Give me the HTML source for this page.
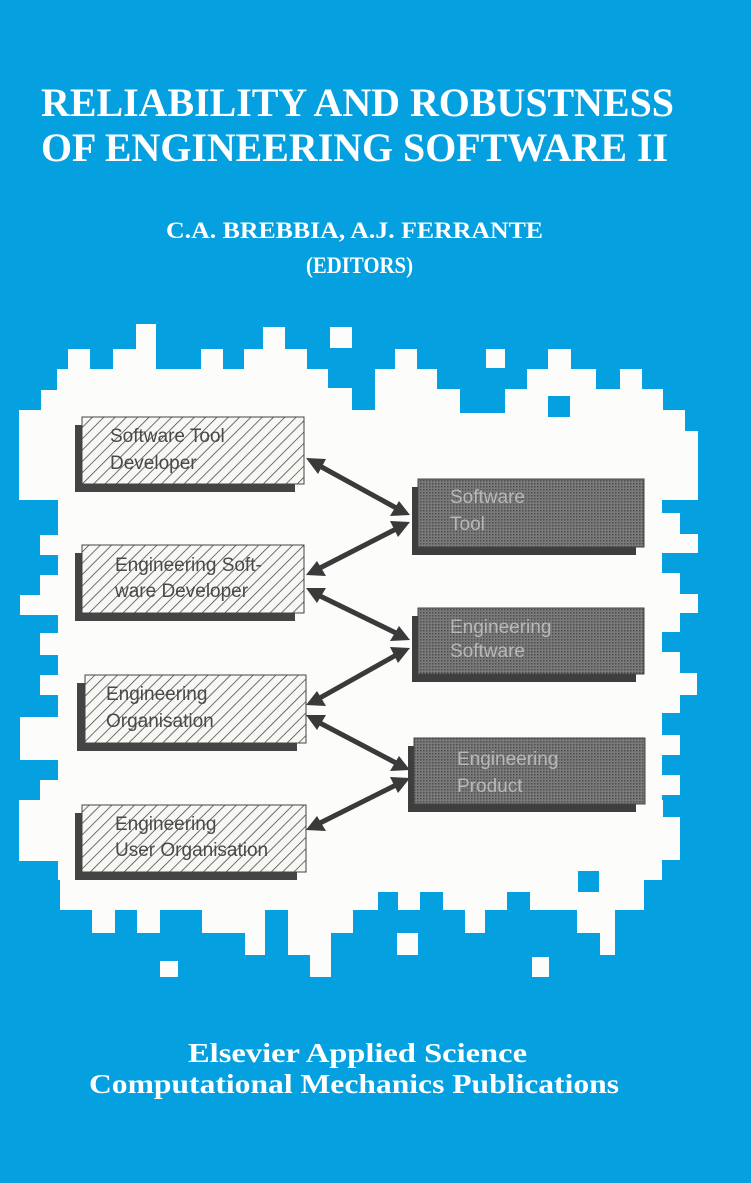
<!DOCTYPE html>
<html><head><meta charset="utf-8"><style>
html,body{margin:0;padding:0;background:#05a0df;}
svg{display:block;}
.t{font-family:"Liberation Serif",serif;font-weight:bold;fill:#fff;}
.h{font-family:"Liberation Sans",sans-serif;font-size:19px;fill:#4a4a4a;}
.d{font-family:"Liberation Sans",sans-serif;font-size:19px;fill:#b8b8b8;}
</style></head><body>
<svg width="751" height="1183" viewBox="0 0 751 1183" xmlns="http://www.w3.org/2000/svg">
<defs>
<pattern id="hatch" width="8" height="8" patternUnits="userSpaceOnUse" patternTransform="rotate(45)">
<rect width="8" height="8" fill="#f7f7f4"/><line x1="0" y1="0" x2="0" y2="8" stroke="#444" stroke-width="1.5"/>
</pattern>
<pattern id="dots" width="3" height="3" patternUnits="userSpaceOnUse">
<rect width="3" height="3" fill="#7a7a7a"/><rect width="1.5" height="1.5" fill="#4e4e4e"/>
</pattern>
</defs>
<rect width="751" height="1183" fill="#05a0df"/>
<g fill="#fcfcfa">
<rect x="58" y="420" width="604" height="460"/>
<rect x="19" y="410" width="22" height="90"/><rect x="41" y="390" width="16" height="110"/>
<rect x="57" y="369" width="11" height="131"/><rect x="68" y="349" width="22" height="151"/>
<rect x="90" y="369" width="23" height="131"/><rect x="113" y="349" width="23" height="151"/>
<rect x="136" y="324" width="20" height="176"/><rect x="156" y="369" width="45" height="131"/>
<rect x="201" y="349" width="22" height="151"/><rect x="223" y="369" width="21" height="131"/>
<rect x="244" y="349" width="19" height="151"/><rect x="263" y="327" width="22" height="173"/>
<rect x="285" y="349" width="22" height="151"/><rect x="307" y="369" width="21" height="131"/>
<rect x="328" y="388" width="24" height="112"/><rect x="352" y="410" width="23" height="90"/>
<rect x="375" y="369" width="20" height="131"/><rect x="395" y="349" width="22" height="151"/>
<rect x="417" y="369" width="20" height="131"/><rect x="437" y="389" width="23" height="111"/>
<rect x="460" y="413" width="45" height="87"/><rect x="505" y="389" width="22" height="111"/>
<rect x="527" y="369" width="21" height="131"/><rect x="548" y="349" width="23" height="151"/>
<rect x="571" y="369" width="25" height="131"/><rect x="596" y="389" width="24" height="111"/>
<rect x="620" y="369" width="22" height="131"/><rect x="642" y="389" width="21" height="111"/>
<rect x="663" y="410" width="22" height="90"/><rect x="685" y="431" width="13" height="69"/>
<rect x="330" y="327" width="22" height="21"/><rect x="486" y="349" width="19" height="19"/>
<rect x="19" y="800" width="41" height="61"/><rect x="60" y="800" width="32" height="110"/>
<rect x="92" y="800" width="23" height="133"/><rect x="115" y="800" width="22" height="110"/>
<rect x="137" y="800" width="23" height="133"/><rect x="160" y="800" width="42" height="110"/>
<rect x="202" y="800" width="43" height="133"/><rect x="245" y="800" width="20" height="155"/>
<rect x="265" y="800" width="23" height="110"/><rect x="288" y="800" width="22" height="155"/>
<rect x="310" y="800" width="21" height="177"/><rect x="331" y="800" width="22" height="133"/>
<rect x="353" y="800" width="25" height="110"/><rect x="378" y="800" width="20" height="92"/>
<rect x="398" y="800" width="22" height="110"/><rect x="420" y="800" width="23" height="92"/>
<rect x="443" y="800" width="22" height="110"/><rect x="465" y="800" width="20" height="133"/>
<rect x="485" y="800" width="22" height="110"/><rect x="507" y="800" width="23" height="92"/>
<rect x="530" y="800" width="47" height="110"/><rect x="577" y="800" width="23" height="133"/>
<rect x="600" y="800" width="15" height="155"/><rect x="615" y="800" width="9" height="110"/>
<rect x="624" y="800" width="20" height="110"/>
<rect x="624" y="800" width="39" height="60"/>
<rect x="160" y="961" width="18" height="16"/><rect x="397" y="933" width="21" height="22"/>
<rect x="532" y="957" width="17" height="20"/>
<rect x="40" y="430" width="60" height="25"/><rect x="40" y="475" width="60" height="20"/>
<rect x="40" y="535" width="60" height="20"/><rect x="40" y="575" width="60" height="20"/>
<rect x="20" y="595" width="80" height="20"/><rect x="40" y="633" width="60" height="22"/>
<rect x="40" y="675" width="60" height="20"/><rect x="20" y="717" width="80" height="43"/>
<rect x="40" y="780" width="60" height="20"/><rect x="20" y="820" width="80" height="20"/>
<rect x="600" y="400" width="62" height="460"/>
<rect x="600" y="410" width="80" height="22"/><rect x="600" y="432" width="98" height="20"/>
<rect x="600" y="452" width="80" height="20"/><rect x="600" y="513" width="80" height="21"/>
<rect x="600" y="534" width="98" height="19"/><rect x="600" y="573" width="80" height="21"/>
<rect x="600" y="594" width="98" height="19"/><rect x="600" y="613" width="80" height="19"/>
<rect x="600" y="652" width="80" height="21"/><rect x="600" y="673" width="97" height="22"/>
<rect x="600" y="695" width="80" height="18"/><rect x="600" y="735" width="80" height="20"/>
<rect x="600" y="775" width="80" height="20"/><rect x="600" y="817" width="80" height="43"/>
</g>
<g fill="#05a0df">
<rect x="548" y="396" width="22" height="21"/><rect x="578" y="871" width="21" height="21"/>
</g>
<text class="t" x="41" y="116" font-size="40" textLength="633" lengthAdjust="spacingAndGlyphs">RELIABILITY AND ROBUSTNESS</text>
<text class="t" x="41" y="161" font-size="40" textLength="627" lengthAdjust="spacingAndGlyphs">OF ENGINEERING SOFTWARE II</text>
<text class="t" x="166" y="238" font-size="23" textLength="377" lengthAdjust="spacingAndGlyphs">C.A. BREBBIA, A.J. FERRANTE</text>
<text class="t" x="306" y="273" font-size="23" textLength="107" lengthAdjust="spacingAndGlyphs">(EDITORS)</text>
<text class="t" x="188" y="1062" font-size="27" textLength="339" lengthAdjust="spacingAndGlyphs">Elsevier Applied Science</text>
<text class="t" x="89" y="1093" font-size="27" textLength="530" lengthAdjust="spacingAndGlyphs">Computational Mechanics Publications</text>
<g stroke="#3a3a3a" stroke-width="5" fill="#3a3a3a">
<line x1="318" y1="465" x2="398" y2="509"/><line x1="398" y1="528" x2="318" y2="569"/>
<line x1="318" y1="595" x2="398" y2="634"/><line x1="398" y1="654" x2="318" y2="699"/>
<line x1="318" y1="722" x2="398" y2="764"/><line x1="398" y1="784" x2="318" y2="824"/>
</g>
<g fill="#3a3a3a">
<polygon points="306,458 326,459 318,474"/><polygon points="410,515 390,516 399,501"/>
<polygon points="410,522 390,521 398,537"/><polygon points="306,575 317,561 326,576"/>
<polygon points="306,588 326,588 317,603"/><polygon points="410,640 390,641 399,626"/>
<polygon points="410,648 390,647 398,663"/><polygon points="306,705 317,691 326,706"/>
<polygon points="306,715 326,715 317,730"/><polygon points="410,770 390,771 399,756"/>
<polygon points="410,778 390,777 398,793"/><polygon points="306,830 317,816 326,831"/>
</g>
<rect x="75" y="425" width="220" height="67" fill="#444"/>
<rect x="82" y="417" width="222" height="67" fill="url(#hatch)" stroke="#444"/>
<rect x="75" y="553" width="220" height="68" fill="#444"/>
<rect x="82" y="545" width="222" height="68" fill="url(#hatch)" stroke="#444"/>
<rect x="77" y="683" width="220" height="68" fill="#444"/>
<rect x="85" y="675" width="221" height="68" fill="url(#hatch)" stroke="#444"/>
<rect x="75" y="813" width="222" height="67" fill="#444"/>
<rect x="82" y="805" width="224" height="67" fill="url(#hatch)" stroke="#444"/>
<text class="h" x="110" y="442">Software Tool</text>
<text class="h" x="110" y="469">Developer</text>
<text class="h" x="115" y="571">Engineering Soft-</text>
<text class="h" x="115" y="597">ware Developer</text>
<text class="h" x="106" y="700">Engineering</text>
<text class="h" x="106" y="727">Organisation</text>
<text class="h" x="115" y="830">Engineering</text>
<text class="h" x="115" y="856">User Organisation</text>
<rect x="412" y="487" width="224" height="68" fill="#3e3e3e"/>
<rect x="418" y="479" width="226" height="68" fill="url(#dots)" stroke="#444"/>
<rect x="412" y="616" width="224" height="66" fill="#3e3e3e"/>
<rect x="418" y="608" width="226" height="66" fill="url(#dots)" stroke="#444"/>
<rect x="408" y="746" width="228" height="66" fill="#3e3e3e"/>
<rect x="414" y="738" width="231" height="66" fill="url(#dots)" stroke="#444"/>
<text class="d" x="450" y="503">Software</text>
<text class="d" x="450" y="530">Tool</text>
<text class="d" x="450" y="633">Engineering</text>
<text class="d" x="450" y="657">Software</text>
<text class="d" x="457" y="765">Engineering</text>
<text class="d" x="457" y="792">Product</text>
</svg>
</body></html>
